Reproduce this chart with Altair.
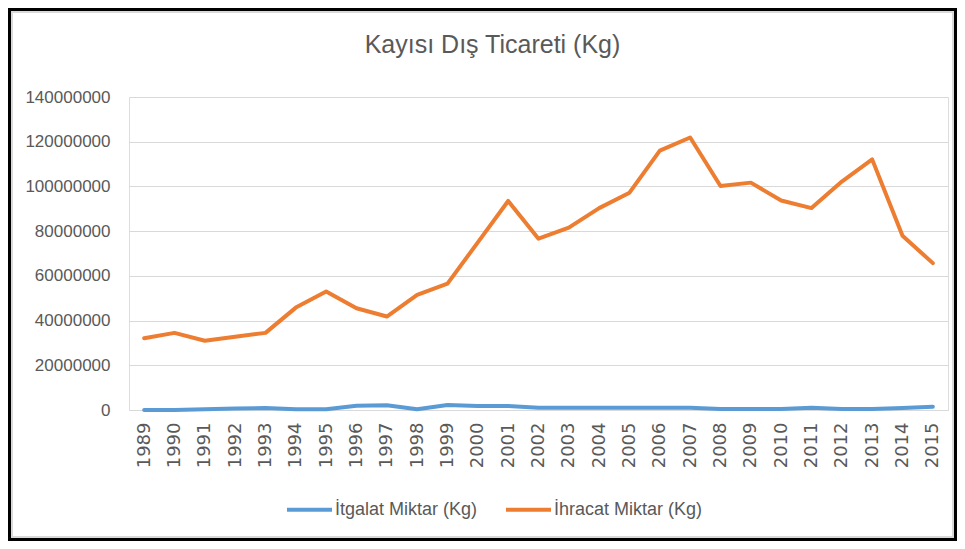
import altair as alt
import pandas as pd

years = [str(y) for y in range(1989, 2016)]
itgalat = [0, 0, 300000, 700000, 900000, 300000, 300000, 1900000, 2100000, 300000,
           2200000, 1800000, 1800000, 1000000, 1000000, 1000000, 1000000, 1000000, 1000000,
           400000, 400000, 400000, 1000000, 400000, 400000, 900000, 1500000]
ihracat = [32100000, 34500000, 31000000, 32800000, 34500000, 45800000, 53000000, 45500000,
           41800000, 51500000, 56500000, 75000000, 93500000, 76600000, 81600000, 90300000,
           97200000, 116000000, 121900000, 100200000, 101700000, 93700000, 90300000,
           102200000, 112100000, 77900000, 65700000]
series_names = ["İtgalat Miktar (Kg)", "İhracat Miktar (Kg)"]
series_colors = ["#5B9BD5", "#ED7D31"]
y_ticks = [0, 20000000, 40000000, 60000000, 80000000, 100000000, 120000000, 140000000]
title_text = "Kayısı Dış Ticareti (Kg)"

rows = []
for i, y in enumerate(years):
    rows.append({"Yıl": y, "Seri": series_names[0], "Miktar": itgalat[i]})
    rows.append({"Yıl": y, "Seri": series_names[1], "Miktar": ihracat[i]})
df = pd.DataFrame(rows)

FONT = "Liberation Sans"
GRAY = "#595959"

lines = alt.Chart(df).mark_line(strokeWidth=4, strokeCap="round", strokeJoin="round").encode(
    x=alt.X("Yıl:O", sort=years,
            scale=alt.Scale(type="point", padding=0.5),
            axis=alt.Axis(title=None, labelAngle=270, labelFont="DejaVu Sans", labelFontSize=18,
                          labelColor=GRAY, labelPadding=12, ticks=False, domain=False, grid=False)),
    y=alt.Y("Miktar:Q",
            scale=alt.Scale(domain=[0, 140000000], nice=False),
            axis=alt.Axis(title=None, values=y_ticks, format="d", labelFont=FONT, labelFontSize=17,
                          labelColor=GRAY, labelPadding=19, ticks=False, domain=False,
                          grid=True, gridColor="#d9d9d9", gridWidth=1)),
    color=alt.Color("Seri:N", sort=series_names,
                    scale=alt.Scale(domain=series_names, range=series_colors),
                    legend=alt.Legend(title=None, orient="none", direction="horizontal",
                                      legendX=156, legendY=388, symbolType="stroke",
                                      symbolSize=2025, symbolStrokeWidth=4, labelOffset=1,
                                      columnPadding=20, labelFont=FONT, labelFontSize=18,
                                      labelColor=GRAY, padding=0)),
)

frame_df = pd.DataFrame({"k": [0]})
frame = alt.Chart(frame_df).mark_rect(fillOpacity=0, stroke="black", strokeWidth=3).encode(
    x=alt.value(-119.5), x2=alt.value(826.5), y=alt.value(-87.5), y2=alt.value(442.5)
)
inner = alt.Chart(frame_df).mark_rect(fillOpacity=0, stroke="#d9d9d9", strokeWidth=2).encode(
    x=alt.value(-117), x2=alt.value(824), y=alt.value(-85), y2=alt.value(440)
)

chart = alt.layer(lines, frame, inner).properties(
    width=819, height=313,
    padding={"left": 121, "top": 89, "right": 9, "bottom": 131},
    autosize=alt.AutoSizeParams(type="none"),
    title=alt.TitleParams(title_text, font=FONT, fontSize=25, fontWeight="normal", color=GRAY,
                          anchor="middle", frame="group", dx=-46, offset=-70,
                          baseline="alphabetic"),
).configure_view(stroke=None).configure(background="white")

chart.save("out.html", embed_options={"renderer": "svg", "actions": False})
